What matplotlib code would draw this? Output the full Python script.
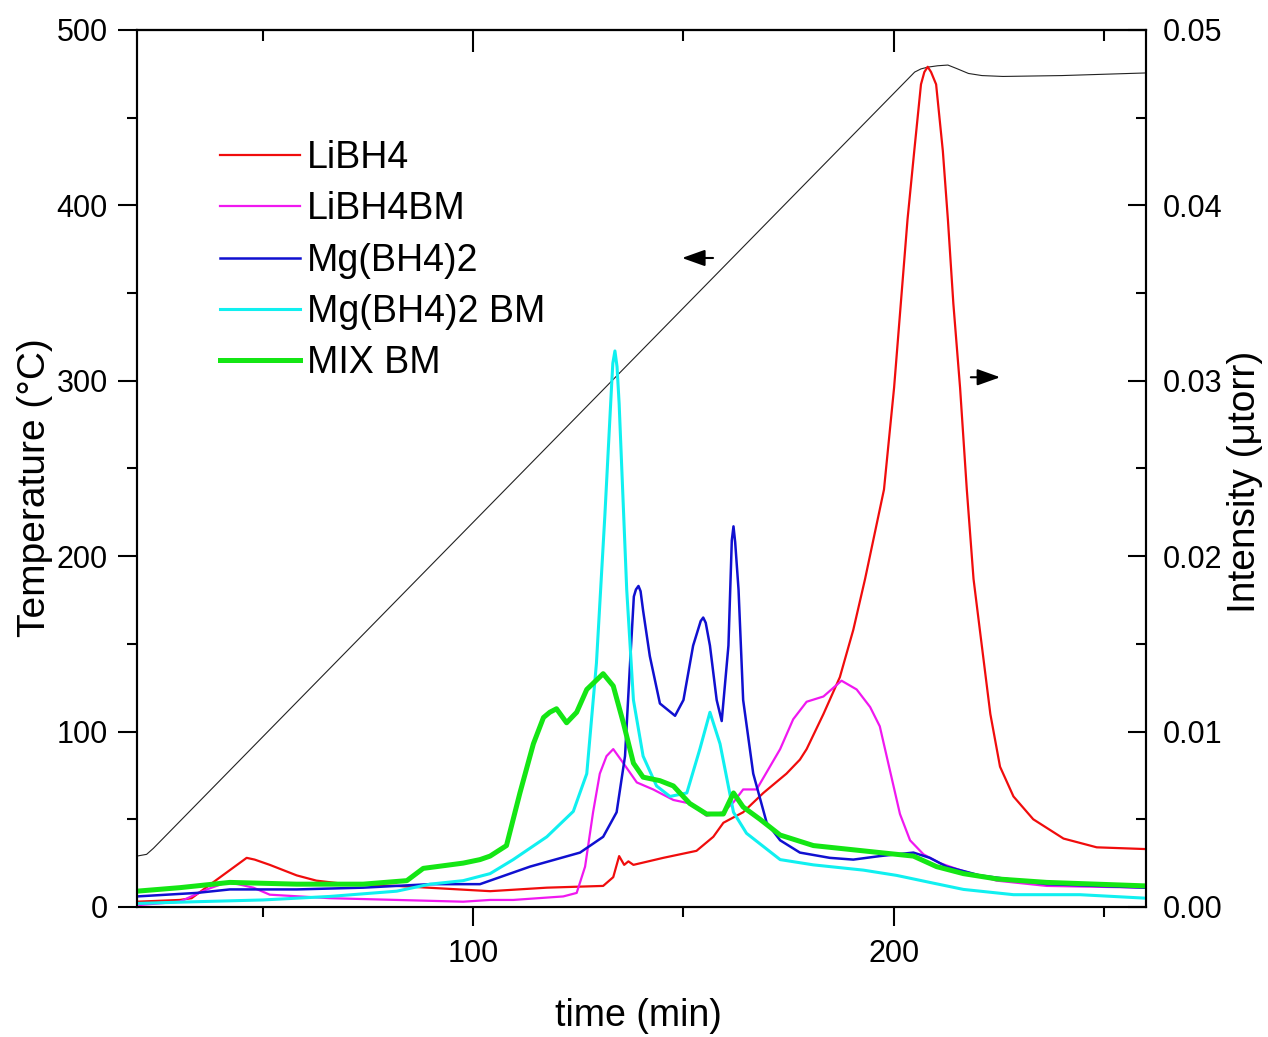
"""Temperature ramp and desorption intensity of borohydride samples."""

import matplotlib
matplotlib.use("Agg")
import matplotlib.pyplot as plt
from matplotlib.ticker import MultipleLocator

plt.rcParams["font.family"] = ["Liberation Sans", "DejaVu Sans"]

# furnace temperature (left axis)
temp_time = [20, 22.3, 23.9, 205, 206.5, 208.1, 210.5, 212.9, 215, 217.8, 221, 226, 240, 260]
temp_deg = [29, 30, 33.4, 476, 477.8, 478.8, 479.6, 480, 478, 475.2, 474, 473.5, 474, 475.5]

# intensity traces (right axis)
libh4_time = [20, 30.2, 33, 38.1, 46.1, 48, 51.6, 58, 62.7, 69.9, 81.8, 104, 117.5,
              130.9, 133.3, 134.7, 135.9, 136.9, 138.1, 145.2, 153.1, 157.1, 159.5,
              164.2, 169, 174.5, 177.7, 179.3, 183.3, 187.2, 190.4, 193.2, 197.7,
              200.1, 201.7, 203.3, 204.9, 206.5, 207.3, 208.1, 208.9, 210.1, 211.7,
              212.9, 214.2, 215.8, 217.4, 219, 220.5, 223, 225.3, 228.5, 233.2, 240.4,
              248.3, 260]
libh4_int = [0.0003, 0.0004, 0.0005, 0.0014, 0.0028, 0.0027, 0.0024, 0.0018, 0.0015,
             0.0013, 0.0012, 0.0009, 0.0011, 0.0012, 0.0017, 0.0029, 0.0024, 0.0026,
             0.0024, 0.0028, 0.0032, 0.0040, 0.0048, 0.0054, 0.0065, 0.0076, 0.0084,
             0.0090, 0.0110, 0.0131, 0.0158, 0.0187, 0.0238, 0.0296, 0.0344, 0.0392,
             0.0431, 0.0469, 0.0476, 0.0479, 0.0476, 0.0469, 0.0431, 0.0392, 0.0344,
             0.0296, 0.0238, 0.0187, 0.0158, 0.0110, 0.0080, 0.0063, 0.0050, 0.0039,
             0.0034, 0.0033]

libh4bm_time = [20, 30.2, 36.6, 41.3, 44, 47.7, 51.6, 65.9, 81.8, 97.6, 104, 109.5,
                121.4, 124.6, 126.6, 128.5, 130.1, 131.7, 133.3, 135.7, 138.9, 142.8,
                147.6, 151.5, 155.5, 159.5, 162, 164.2, 167.4, 173, 176.1, 179.3,
                183.3, 187.6, 191.2, 194.4, 196.7, 199.1, 201.5, 203.9, 207.1, 211,
                215.8, 224.5, 236.4, 260]
libh4bm_int = [0.0001, 0.0003, 0.0010, 0.0014, 0.0013, 0.0011, 0.0007, 0.0005, 0.0004,
               0.0003, 0.0004, 0.0004, 0.0006, 0.0008, 0.0023, 0.0054, 0.0076, 0.0086,
               0.0090, 0.0082, 0.0071, 0.0067, 0.0061, 0.0059, 0.0052, 0.0054, 0.0060,
               0.0067, 0.0067, 0.0090, 0.0107, 0.0117, 0.0120, 0.0129, 0.0124, 0.0114,
               0.0103, 0.0078, 0.0053, 0.0038, 0.0030, 0.0025, 0.0021, 0.0015, 0.0012,
               0.0011]

mg_time = [20, 34.2, 42.1, 58, 73.8, 89.7, 101.6, 113.5, 125.4, 130.9, 134.1, 136.1,
           137.3, 138.2, 138.7, 139.3, 139.8, 140.4, 142, 144.4, 148, 150, 152.3,
           154.1, 154.7, 155.3, 156.3, 157.9, 159.1, 160.7, 161.5, 161.9, 162.3,
           163.1, 164.2, 166.6, 169.8, 173, 177.7, 184.8, 190.4, 196.7, 204.7, 208.6,
           212.6, 220.5, 236.4, 260]
mg_int = [0.0006, 0.0008, 0.0010, 0.0010, 0.0011, 0.0013, 0.0013, 0.0023, 0.0031,
          0.0040, 0.0054, 0.0086, 0.0139, 0.0177, 0.0181, 0.0183, 0.0180, 0.0169,
          0.0143, 0.0116, 0.0109, 0.0118, 0.0149, 0.0163, 0.0165, 0.0162, 0.0149,
          0.0118, 0.0106, 0.0149, 0.0209, 0.0217, 0.0208, 0.0181, 0.0118, 0.0076,
          0.0048, 0.0038, 0.0031, 0.0028, 0.0027, 0.0029, 0.0031, 0.0028, 0.0023,
          0.0018, 0.0013, 0.0011]

mgbm_time = [20, 34.2, 50, 65.9, 81.8, 89.7, 97.6, 104, 109.5, 117.5, 123.8, 127,
             129.3, 131.3, 132.9, 133.2, 133.7, 134.2, 134.7, 136.5, 138.1, 140.4,
             143.6, 146.8, 150.8, 153.9, 156.3, 158.7, 161.9, 165, 169.8, 173, 180.9,
             192.8, 200.7, 208.6, 216.6, 228.5, 244.3, 260]
mgbm_int = [0.0002, 0.0003, 0.0004, 0.0006, 0.0009, 0.0013, 0.0015, 0.0019, 0.0027,
            0.0040, 0.00545, 0.0076, 0.0139, 0.0223, 0.0297, 0.0310, 0.0317, 0.0308,
            0.0287, 0.0181, 0.0118, 0.0086, 0.0069, 0.0063, 0.0065, 0.0090, 0.0111,
            0.0093, 0.0054, 0.0042, 0.0033, 0.0027, 0.0024, 0.0021, 0.0018, 0.0014,
            0.0010, 0.0007, 0.0007, 0.0005]

mix_time = [20, 30.2, 42.1, 58, 73.8, 84.2, 88.1, 91.3, 97.6, 101.6, 104, 107.9, 111.1,
            114.3, 116.7, 118.2, 119.8, 122.2, 124.6, 127, 130.9, 133.3, 135.7, 138.1,
            140.4, 144.4, 147.6, 151.5, 155.5, 159.5, 161.9, 164.2, 168.2, 173, 180.9,
            188.8, 196.7, 204.7, 210.2, 216.6, 224.5, 236.4, 260]
mix_int = [0.0009, 0.0011, 0.0014, 0.0013, 0.0013, 0.0015, 0.0022, 0.0023, 0.0025,
           0.0027, 0.0029, 0.0035, 0.0065, 0.0093, 0.0108, 0.0111, 0.0113, 0.0105,
           0.0111, 0.0124, 0.0133, 0.0126, 0.0105, 0.0082, 0.0074, 0.0072, 0.0069,
           0.0059, 0.0053, 0.0053, 0.0065, 0.0057, 0.0050, 0.0041, 0.0035, 0.0033,
           0.0031, 0.0029, 0.0023, 0.0019, 0.0016, 0.0014, 0.0012]

series = [
    ("LiBH4", libh4_time, libh4_int, "#f00c0c", 1.6),
    ("LiBH4BM", libh4bm_time, libh4bm_int, "#f018f0", 1.6),
    ("Mg(BH4)2", mg_time, mg_int, "#1010d0", 1.8),
    ("Mg(BH4)2 BM", mgbm_time, mgbm_int, "#10f0f0", 2.2),
    ("MIX BM", mix_time, mix_int, "#14e614", 3.6),
]

fig = plt.figure(figsize=(12.68, 10.37), dpi=100)
ax = fig.add_axes([0.108, 0.1254, 0.7957, 0.8457])
ax2 = ax.twinx()

ax.plot(temp_time, temp_deg, color="#222222", lw=0.8, zorder=3)
for label, t, y, color, lw in series:
    ax2.plot(t, y, color=color, lw=lw, label=label)

ax.set_xlim(20, 260)
ax.set_ylim(0, 500)
ax2.set_ylim(0, 0.05)

ax.xaxis.set_major_locator(MultipleLocator(100))
ax.xaxis.set_minor_locator(MultipleLocator(50))
ax.yaxis.set_major_locator(MultipleLocator(100))
ax.yaxis.set_minor_locator(MultipleLocator(50))
ax2.yaxis.set_major_locator(MultipleLocator(0.01))
ax2.yaxis.set_minor_locator(MultipleLocator(0.005))
ax2.yaxis.set_major_formatter(lambda v, _: f"{v:.2f}")

ax.tick_params(axis="both", which="major", direction="out", length=14, width=1.5,
               labelsize=22, pad=7)
ax.tick_params(axis="both", which="minor", direction="out", length=7, width=1.5)
ax.tick_params(axis="x", pad=9)
ax2.tick_params(axis="y", which="major", direction="in", length=13, width=1.5,
                labelsize=22, pad=12)
ax2.tick_params(axis="y", which="minor", direction="in", length=7, width=1.5)

top = ax.secondary_xaxis("top")
top.xaxis.set_major_locator(MultipleLocator(100))
top.xaxis.set_minor_locator(MultipleLocator(50))
top.tick_params(which="major", direction="in", length=16, width=1.5, labeltop=False)
top.tick_params(which="minor", direction="in", length=8, width=1.5)

for axis in (ax, ax2, top):
    for spine in axis.spines.values():
        spine.set_linewidth(1.5)

ax.set_xlabel("time (min)", fontsize=27)
ax.xaxis.set_label_coords(0.497, -0.104)
ax.set_ylabel("Temperature (°C)", fontsize=28, va="center")
ax.yaxis.set_label_coords(-0.101, 0.478)
ax2.set_ylabel("Intensity (μtorr)", fontsize=28, va="center", rotation=90)
ax2.yaxis.set_label_coords(1.098, 0.485)

# arrows pointing each curve family to its axis
ax.annotate("", xy=(149.0, 370), xytext=(157.7, 370),
            arrowprops=dict(arrowstyle="-|>,head_length=0.7,head_width=0.25",
                            color="black", lw=1.5, mutation_scale=20))
ax.annotate("", xy=(226.0, 302), xytext=(217.7, 302),
            arrowprops=dict(arrowstyle="-|>,head_length=0.7,head_width=0.25",
                            color="black", lw=1.5, mutation_scale=20))

ax2.legend(loc="upper left", bbox_to_anchor=(0.0823, 0.8746), frameon=False,
           fontsize=27, handlelength=2.13, handletextpad=0.2, labelspacing=0.41,
           borderpad=0, borderaxespad=0)

fig.savefig("out.png", dpi=100)
